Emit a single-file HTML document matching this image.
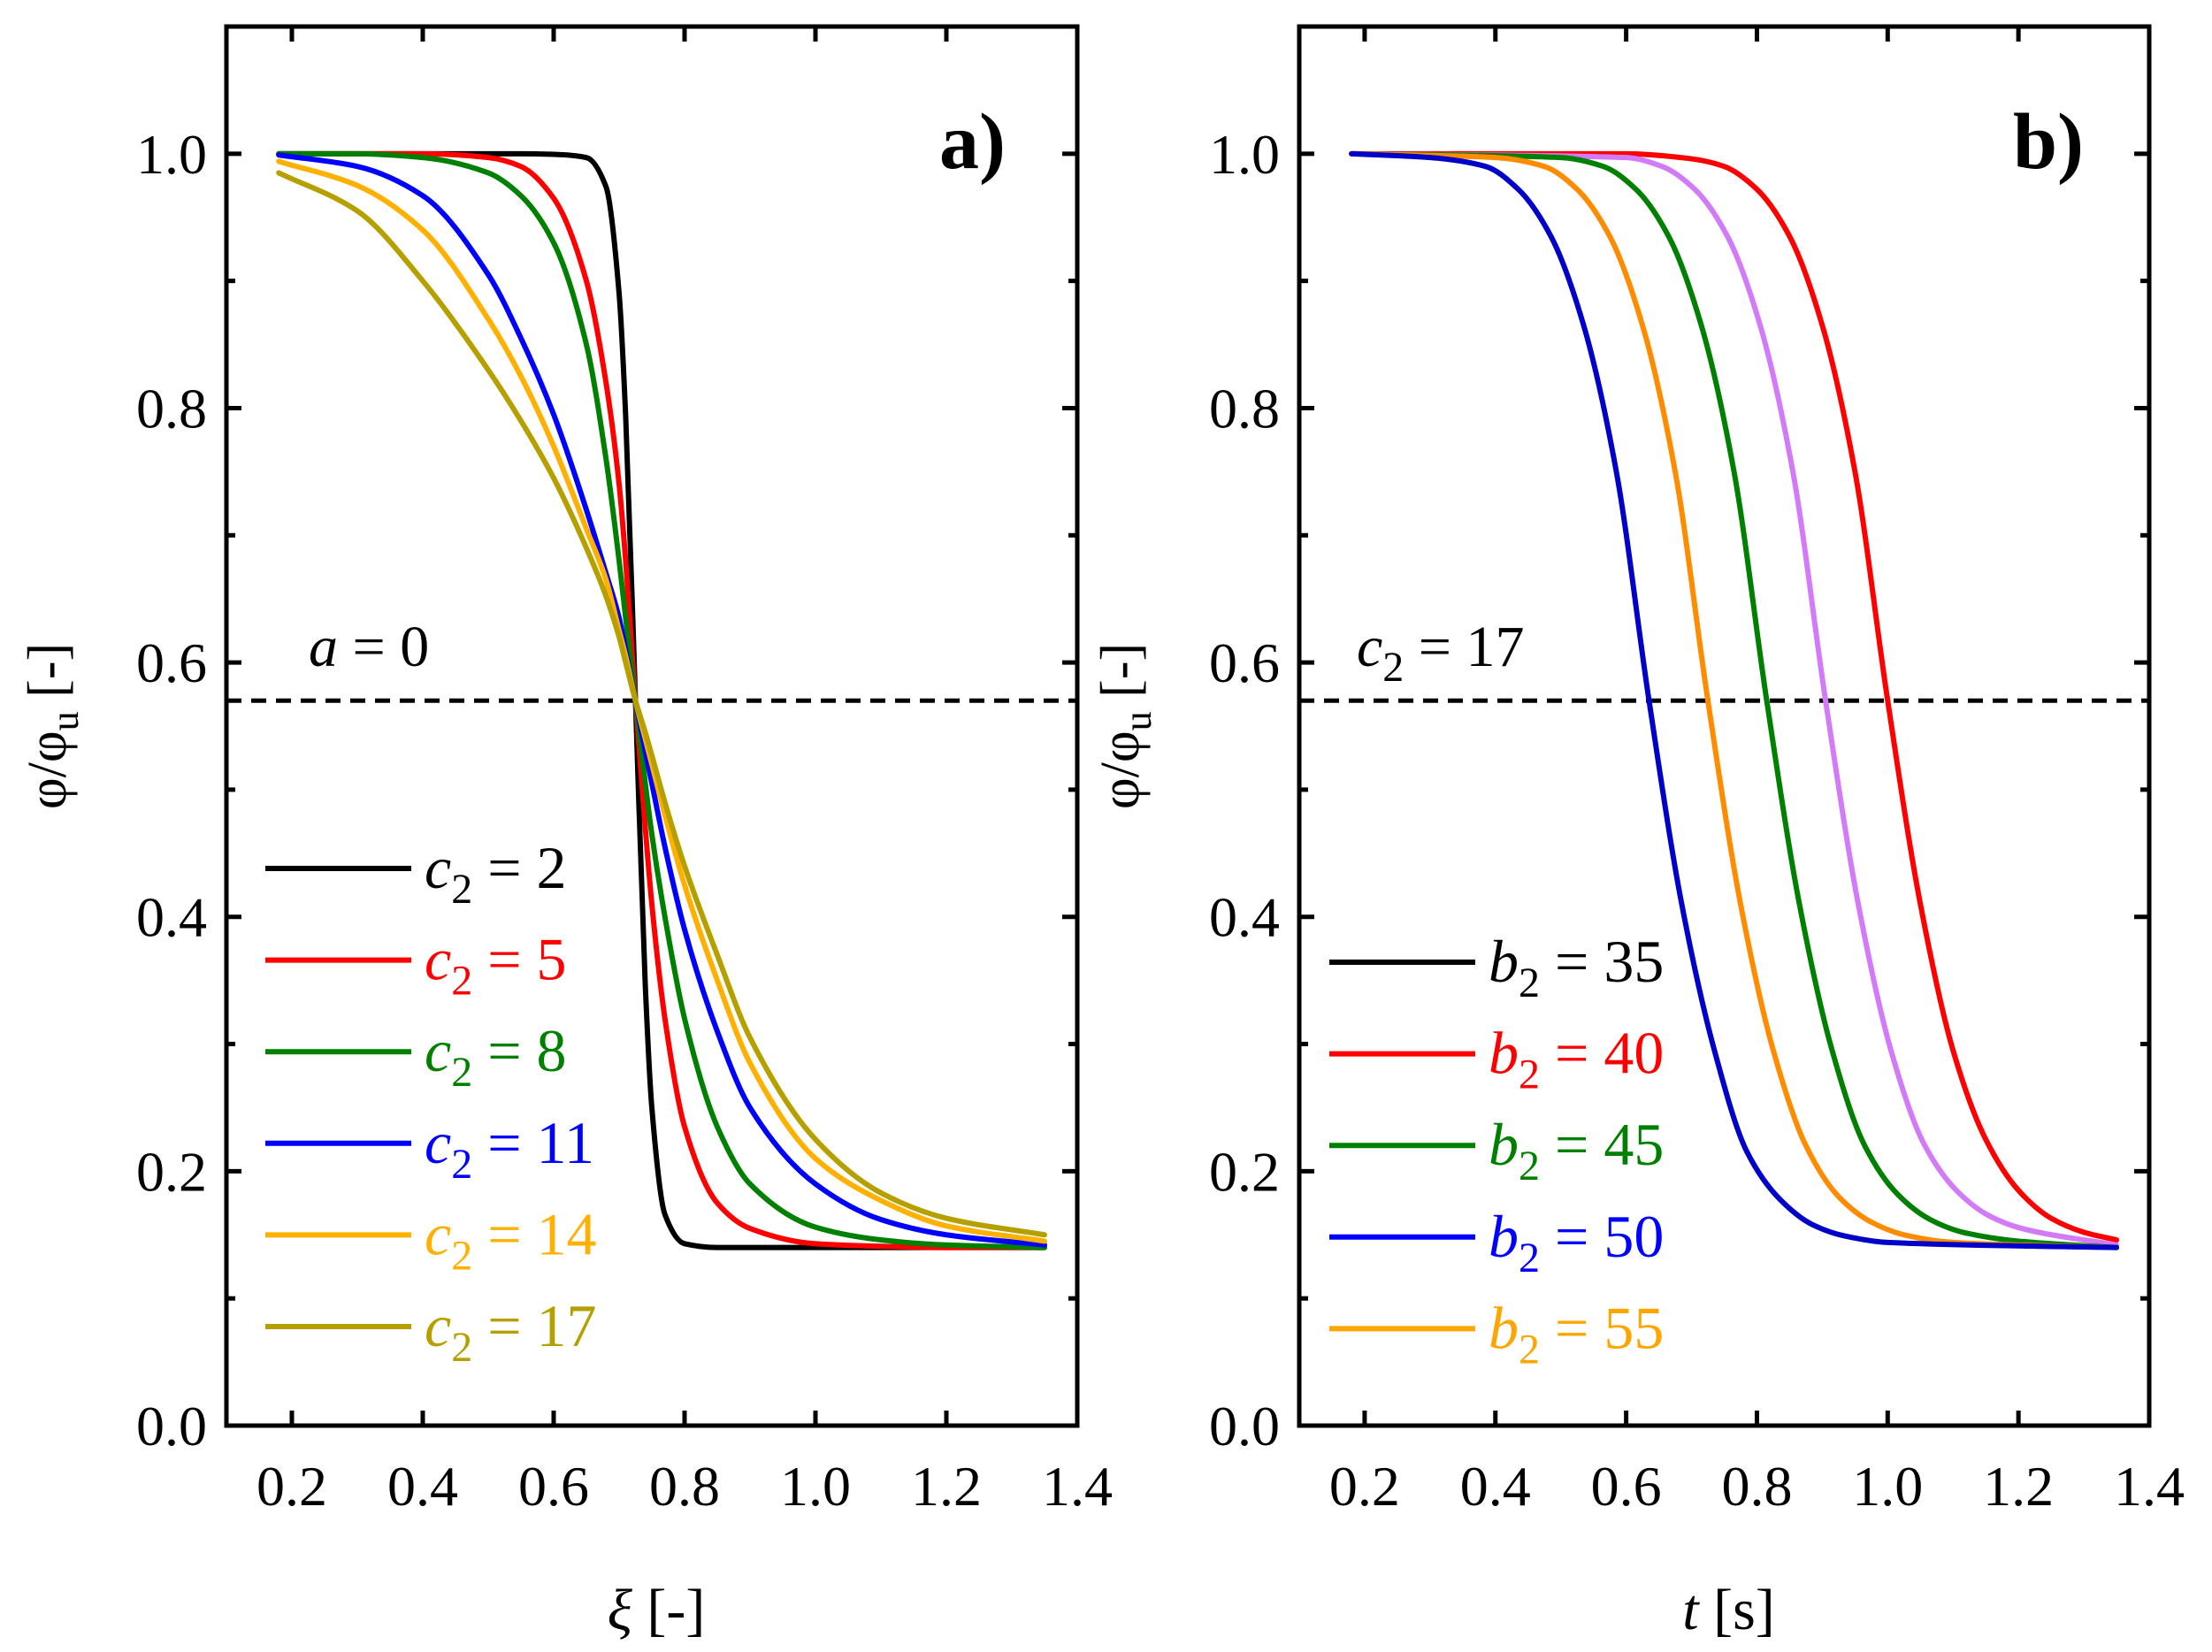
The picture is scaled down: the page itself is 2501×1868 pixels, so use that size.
<!DOCTYPE html>
<html><head><meta charset="utf-8"><style>
html,body{margin:0;padding:0;background:#fff;}
svg{display:block;}
text{font-family:"Liberation Serif","Times New Roman",serif;}
</style></head><body>
<svg id="chart" width="2501" height="1868" viewBox="0 0 2501 1868" xmlns="http://www.w3.org/2000/svg"></svg>
<script>
// ---- Panel a data ----
const aX = [0.18,0.3,0.4,0.5,0.55,0.6,0.65,0.68,0.7,0.71,0.725,0.74,0.75,0.77,0.8,0.85,0.9,1.0,1.1,1.2,1.35];
const aC2_2  = [1,1,1,1,1,0.9995,0.997,0.974,0.890,0.794,0.57,0.346,0.250,0.166,0.143,0.14,0.14,0.14,0.14,0.14,0.14];
const aC2_5  = [1,1,1,0.997,0.99,0.965,0.9,0.82,0.74,0.68,0.57,0.47,0.41,0.32,0.235,0.175,0.155,0.143,0.141,0.14,0.14];
const aC2_8  = [1,1,0.997,0.985,0.967,0.93,0.85,0.76,0.68,0.635,0.57,0.505,0.465,0.40,0.32,0.235,0.19,0.156,0.146,0.142,0.14];
const aC2_11 = [0.999,0.99,0.967,0.905,0.855,0.795,0.72,0.67,0.635,0.61,0.57,0.53,0.505,0.455,0.39,0.31,0.25,0.19,0.162,0.15,0.142];
const aC2_14 = [0.994,0.975,0.94,0.87,0.825,0.77,0.705,0.665,0.625,0.605,0.57,0.54,0.52,0.48,0.425,0.35,0.285,0.21,0.177,0.157,0.145];
const aC2_17 = [0.985,0.955,0.90,0.83,0.79,0.745,0.69,0.652,0.62,0.60,0.57,0.545,0.527,0.49,0.44,0.37,0.305,0.225,0.183,0.163,0.15];
const aVals = ["2","5","8","11","14","17"];
const aColors = ["#000000","#ff0000","#008000","#0000ff","#ffb000","#b5a000"];

// ---- Panel b data ----
const bBlueX = [0.18,0.3,0.385,0.435,0.485,0.535,0.585,0.635,0.685,0.735,0.785,0.835,0.885,0.935,1.0,1.35];
const bBlueY = [1,0.997,0.99,0.972,0.935,0.865,0.75,0.57,0.41,0.295,0.215,0.178,0.158,0.149,0.144,0.14];
const bOrangeX = [0.18,0.4,0.475,0.525,0.575,0.625,0.675,0.725,0.775,0.825,0.875,0.925,0.975,1.025,1.1,1.35];
const bOrangeY = [1,0.997,0.99,0.972,0.935,0.865,0.75,0.57,0.41,0.295,0.22,0.18,0.16,0.15,0.144,0.14];
const bGreenX = [0.18,0.5,0.565,0.615,0.665,0.715,0.765,0.815,0.865,0.915,0.965,1.015,1.065,1.115,1.2,1.35];
const bGreenY = [1,0.997,0.99,0.972,0.935,0.865,0.75,0.57,0.41,0.295,0.22,0.182,0.162,0.152,0.145,0.14];
const bVioletX = [0.18,0.6,0.655,0.705,0.755,0.805,0.855,0.905,0.955,1.005,1.055,1.105,1.155,1.205,1.35];
const bVioletY = [1,0.997,0.99,0.972,0.935,0.865,0.75,0.57,0.41,0.295,0.222,0.185,0.165,0.155,0.142];
const bRedX = [0.18,0.6,0.7,0.75,0.8,0.85,0.9,0.95,1.0,1.05,1.1,1.15,1.2,1.25,1.3,1.35];
const bRedY = [1,1,0.996,0.99,0.972,0.935,0.865,0.75,0.57,0.41,0.295,0.225,0.185,0.163,0.152,0.146];
const bVals = ["35","40","45","50","55"];
const bColors = ["#000000","#ff0000","#008000","#0000ff","#ffa500"];

const xTicks = [0.2,0.4,0.6,0.8,1.0,1.2,1.4];
const yTicks = [0.0,0.2,0.4,0.6,0.8,1.0];
const yMinor = [0.1,0.3,0.5,0.7,0.9];
const dashY = 0.57;

const NS="http://www.w3.org/2000/svg";
const svg=document.getElementById('chart');
function el(tag,attrs,parent){const e=document.createElementNS(NS,tag);for(const k in attrs)e.setAttribute(k,attrs[k]);(parent||svg).appendChild(e);return e;}

function panel(L,R,T,B,id){
  const sx=v=>L+(v-0.1)/(1.4-0.1)*(R-L);
  const sy=v=>B-(v/1.1)*(B-T);
  const g=el('g',{});
  
  
  return {sx,sy,g,L,R,T,B};
}
function axes(p,id,xlabel){
  const g=p.g;
  xTicks.forEach(v=>{
    const x=p.sx(v);
    if(v<1.39){
      const t1=el('line',{x1:x,y1:p.B,x2:x,y2:p.B-17,stroke:'#000','stroke-width':5},g);
      
      
      el('line',{x1:x,y1:p.T,x2:x,y2:p.T+17,stroke:'#000','stroke-width':5},g);
    }
    const t=el('text',{x:x,y:1702,'font-size':64,'text-anchor':'middle'},g);
    t.textContent=v.toFixed(1);
    
    
  });
  yTicks.forEach(v=>{
    const y=p.sy(v);
    el('line',{x1:p.L,y1:y,x2:p.L+17,y2:y,stroke:'#000','stroke-width':5},g);
    el('line',{x1:p.R,y1:y,x2:p.R-17,y2:y,stroke:'#000','stroke-width':5},g);
    const t=el('text',{x:p.L-22,y:y+22,'font-size':64,'text-anchor':'end'},g);
    t.textContent=v.toFixed(1);
    
    
  });
  yMinor.forEach(v=>{
    const y=p.sy(v);
    el('line',{x1:p.L,y1:y,x2:p.L+10,y2:y,stroke:'#000','stroke-width':5},g);
    el('line',{x1:p.R,y1:y,x2:p.R-10,y2:y,stroke:'#000','stroke-width':5},g);
  });
  const fr=el('rect',{x:p.L,y:p.T,width:p.R-p.L,height:p.B-p.T,fill:'none',stroke:'#000','stroke-width':5},g);
  
  
  const d=el('line',{x1:p.L,y1:p.sy(dashY),x2:p.R,y2:p.sy(dashY),stroke:'#000','stroke-width':5,'stroke-dasharray':'17 11'},g);
  
  
  const yl=el('text',{x:0,y:0,'font-size':62,'text-anchor':'middle',transform:`translate(${p.L-182},${p.sy(0.55)}) rotate(-90)`},g);
  yl.innerHTML='φ/φ<tspan font-size="44" dy="14">u</tspan><tspan dy="-14"> [-]</tspan>';
  
  
  const xl=el('text',{x:(p.L+p.R)/2+5,y:1842,'font-size':66,'text-anchor':'middle'},g);
  xl.innerHTML=xlabel;
  
  
}
function monoPath(px,py){
  const n=px.length;const dx=[],m=[],s=[];
  for(let i=0;i<n-1;i++){dx.push(px[i+1]-px[i]);s.push((py[i+1]-py[i])/dx[i]);}
  m[0]=s[0];m[n-1]=s[n-2];
  for(let i=1;i<n-1;i++){ if(s[i-1]*s[i]<=0)m[i]=0; else {const w1=2*dx[i]+dx[i-1],w2=dx[i]+2*dx[i-1];m[i]=(w1+w2)/(w1/s[i-1]+w2/s[i]);}}
  let d=`M${px[0]},${py[0]}`;
  for(let i=0;i<n-1;i++){const h=dx[i];d+=` C${px[i]+h/3},${py[i]+m[i]*h/3} ${px[i+1]-h/3},${py[i+1]-m[i+1]*h/3} ${px[i+1]},${py[i+1]}`;}
  return d;
}
function curve(p,xs,ys,color,name){
  const path=el('path',{d:monoPath(xs.map(p.sx),ys.map(p.sy)),fill:'none',stroke:color,'stroke-width':6,'stroke-linejoin':'round','stroke-linecap':'round'},p.g);
  
  
}
function legend(p,x0,y0,step,sym,vals,colors,id){
  vals.forEach((v,i)=>{
    const y=y0+i*step;
    const g=el('g',{},p.g);
    
    
    el('line',{x1:x0,y1:y,x2:x0+165,y2:y,stroke:colors[i],'stroke-width':6},g);
    const t=el('text',{x:x0+180,y:y+22,'font-size':68,fill:colors[i]},g);
    t.innerHTML=`<tspan font-style="italic">${sym}</tspan><tspan font-size="48" dy="17">2</tspan><tspan dy="-17"> = ${v}</tspan>`;
  });
}

// Panel a
const pa=panel(256,1218,30,1612,'panel-a');
axes(pa,'panel-a','<tspan font-style="italic">ξ</tspan> [-]');
[aC2_2,aC2_5,aC2_8,aC2_11,aC2_14,aC2_17].forEach((ys,i)=>curve(pa,aX,ys,aColors[i],'curve-c2-'+aVals[i]));
legend(pa,300,982,103.6,'c',aVals,aColors,'panel-a');
const la=el('text',{x:349,y:753,'font-size':66},pa.g);
la.innerHTML='<tspan font-style="italic">a</tspan> = 0';


const ta=el('text',{x:1062,y:190,'font-size':90,'font-weight':'bold'},pa.g);
ta.textContent='a)';



// Panel b
const pb=panel(1469,2430,30,1612,'panel-b');
axes(pb,'panel-b','<tspan font-style="italic">t</tspan> [s]');
curve(pb,bRedX,bRedY,'#ff0000','curve-b2-40');
curve(pb,bVioletX,bVioletY,'#d27af7','curve-violet');
curve(pb,bGreenX,bGreenY,'#008000','curve-b2-45');
curve(pb,bOrangeX,bOrangeY,'#ff8c00','curve-b2-55');
curve(pb,bBlueX,bBlueY,'#0000c8','curve-b2-50');
legend(pb,1503,1088,103.6,'b',bVals,bColors,'panel-b');
const lb=el('text',{x:1534,y:753,'font-size':66},pb.g);
lb.innerHTML='<tspan font-style="italic">c</tspan><tspan font-size="48" dy="17">2</tspan><tspan dy="-17"> = 17</tspan>';


const tb=el('text',{x:2276,y:190,'font-size':90,'font-weight':'bold'},pb.g);
tb.textContent='b)';


</script>
</body></html>
